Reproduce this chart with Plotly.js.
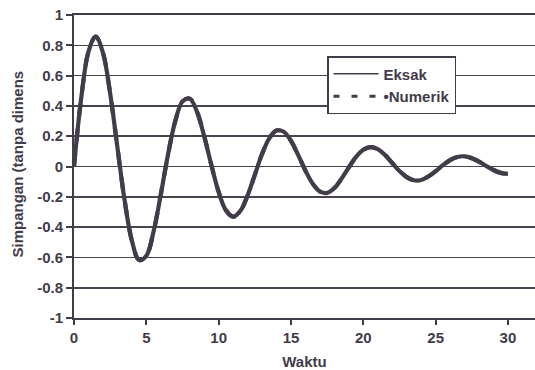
<!DOCTYPE html>
<html>
<head>
<meta charset="utf-8">
<script src="https://cdn.plot.ly/plotly-3.0.1.min.js"></script>
<style>html,body{margin:0;padding:0;background:#fff;}#chart{width:535px;height:370px;}</style>
</head>
<body>
<div id="chart"></div>
<script>
// Waktu (time)
const waktu = [0,0.5,1,1.5,2,2.5,3,3.5,4,4.5,5,5.5,6,6.5,7,7.5,8,8.5,9,9.5,10,10.5,11,11.5,12,12.5,13,13.5,14,14.5,15,15.5,16,16.5,17,17.5,18,18.5,19,19.5,20,20.5,21,21.5,22,22.5,23,23.5,24,24.5,25,25.5,26,26.5,27,27.5,28,28.5,29,29.5,30];
// Eksak (exact solution) values
const eksak = [0,0.452,0.757,0.858,0.751,0.482,0.127,-0.224,-0.489,-0.617,-0.590,-0.429,-0.185,0.079,0.299,0.430,0.448,0.362,0.200,0.008,-0.168,-0.289,-0.331,-0.293,-0.191,-0.055,0.082,0.186,0.237,0.229,0.169,0.075,-0.027,-0.113,-0.165,-0.174,-0.142,-0.080,-0.006,0.063,0.110,0.128,0.114,0.076,0.023,-0.030,-0.070,-0.091,-0.089,-0.066,-0.031,0.009,0.042,0.063,0.067,0.055,0.032,0.003,-0.023,-0.042,-0.049];
// Numerik (numerical solution) values
const numerik = [0,0.452,0.757,0.858,0.751,0.482,0.127,-0.224,-0.489,-0.617,-0.590,-0.429,-0.185,0.079,0.299,0.430,0.448,0.362,0.200,0.008,-0.168,-0.289,-0.331,-0.293,-0.191,-0.055,0.082,0.186,0.237,0.229,0.169,0.075,-0.027,-0.113,-0.165,-0.174,-0.142,-0.080,-0.006,0.063,0.110,0.128,0.114,0.076,0.023,-0.030,-0.070,-0.091,-0.089,-0.066,-0.031,0.009,0.042,0.063,0.067,0.055,0.032,0.003,-0.023,-0.042,-0.049];
const xTicks = [0,5,10,15,20,25,30];
const yTicks = [1,0.8,0.6,0.4,0.2,0,-0.2,-0.4,-0.6,-0.8,-1];
const yTickText = ['1','0.8','0.6','0.4','0.2','0','-0.2','-0.4','-0.6','-0.8','-1'];

const INK = '#423c4a';
const GRID = '#4a4452';
const FONT = 'Liberation Sans, Arial, sans-serif';

const traces = [
  {x: waktu, y: eksak, mode: 'lines', line: {color: INK, width: 4.2, shape: 'spline'}, showlegend: false, hoverinfo: 'skip'},
  {x: waktu, y: numerik, mode: 'lines', line: {color: INK, width: 4.2, dash: 'dash', shape: 'spline'}, showlegend: false, hoverinfo: 'skip'},
  {x: [null], y: [null], mode: 'lines', name: 'Eksak', line: {color: INK, width: 1.5}},
  {x: [null], y: [null], mode: 'lines', name: '•Numerik', line: {color: INK, width: 3, dash: '6px,12px'}}
];

const layout = {
  width: 535, height: 370,
  margin: {l: 74, r: 0, t: 15, b: 52, pad: 0},
  paper_bgcolor: '#ffffff', plot_bgcolor: '#ffffff',
  font: {family: FONT, size: 15, color: INK, weight: 'bold'},
  showlegend: true,
  legend: {
    x: (327 - 74) / 461, y: (318 - 56) / 303, xanchor: 'left', yanchor: 'top',
    bgcolor: '#ffffff', bordercolor: INK, borderwidth: 1.5,
    font: {family: FONT, size: 15, color: INK, weight: 'bold'},
    itemwidth: 45, tracegroupgap: 0
  },
  xaxis: {
    range: [0, 31.87], tickvals: xTicks, ticktext: xTicks.map(String),
    ticks: 'outside', ticklen: 5, tickwidth: 2, tickcolor: INK,
    showline: true, linewidth: 2, linecolor: INK, mirror: true,
    showgrid: false, zeroline: false,
    tickfont: {family: FONT, size: 15, color: INK, weight: 'bold'},
    title: {text: 'Waktu', font: {family: FONT, size: 15, color: INK, weight: 'bold'}, standoff: 12}
  },
  yaxis: {
    range: [-1, 1], tickvals: yTicks, ticktext: yTickText,
    ticks: 'outside', ticklen: 6, tickwidth: 2, tickcolor: INK,
    showline: true, linewidth: 2, linecolor: INK,
    showgrid: true, gridcolor: GRID, gridwidth: 1.6, zeroline: false,
    tickfont: {family: FONT, size: 15, color: INK, weight: 'bold'}
  },
  annotations: [{
    text: 'Simpangan (tanpa dimens', textangle: -90,
    xref: 'paper', yref: 'paper', x: (17 - 74) / 461, y: (318 - 260) / 303,
    xanchor: 'center', yanchor: 'bottom', showarrow: false,
    font: {family: FONT, size: 15, color: INK, weight: 'bold'}
  }]
};

Plotly.newPlot('chart', traces, layout, {staticPlot: true});
</script>
</body>
</html>
